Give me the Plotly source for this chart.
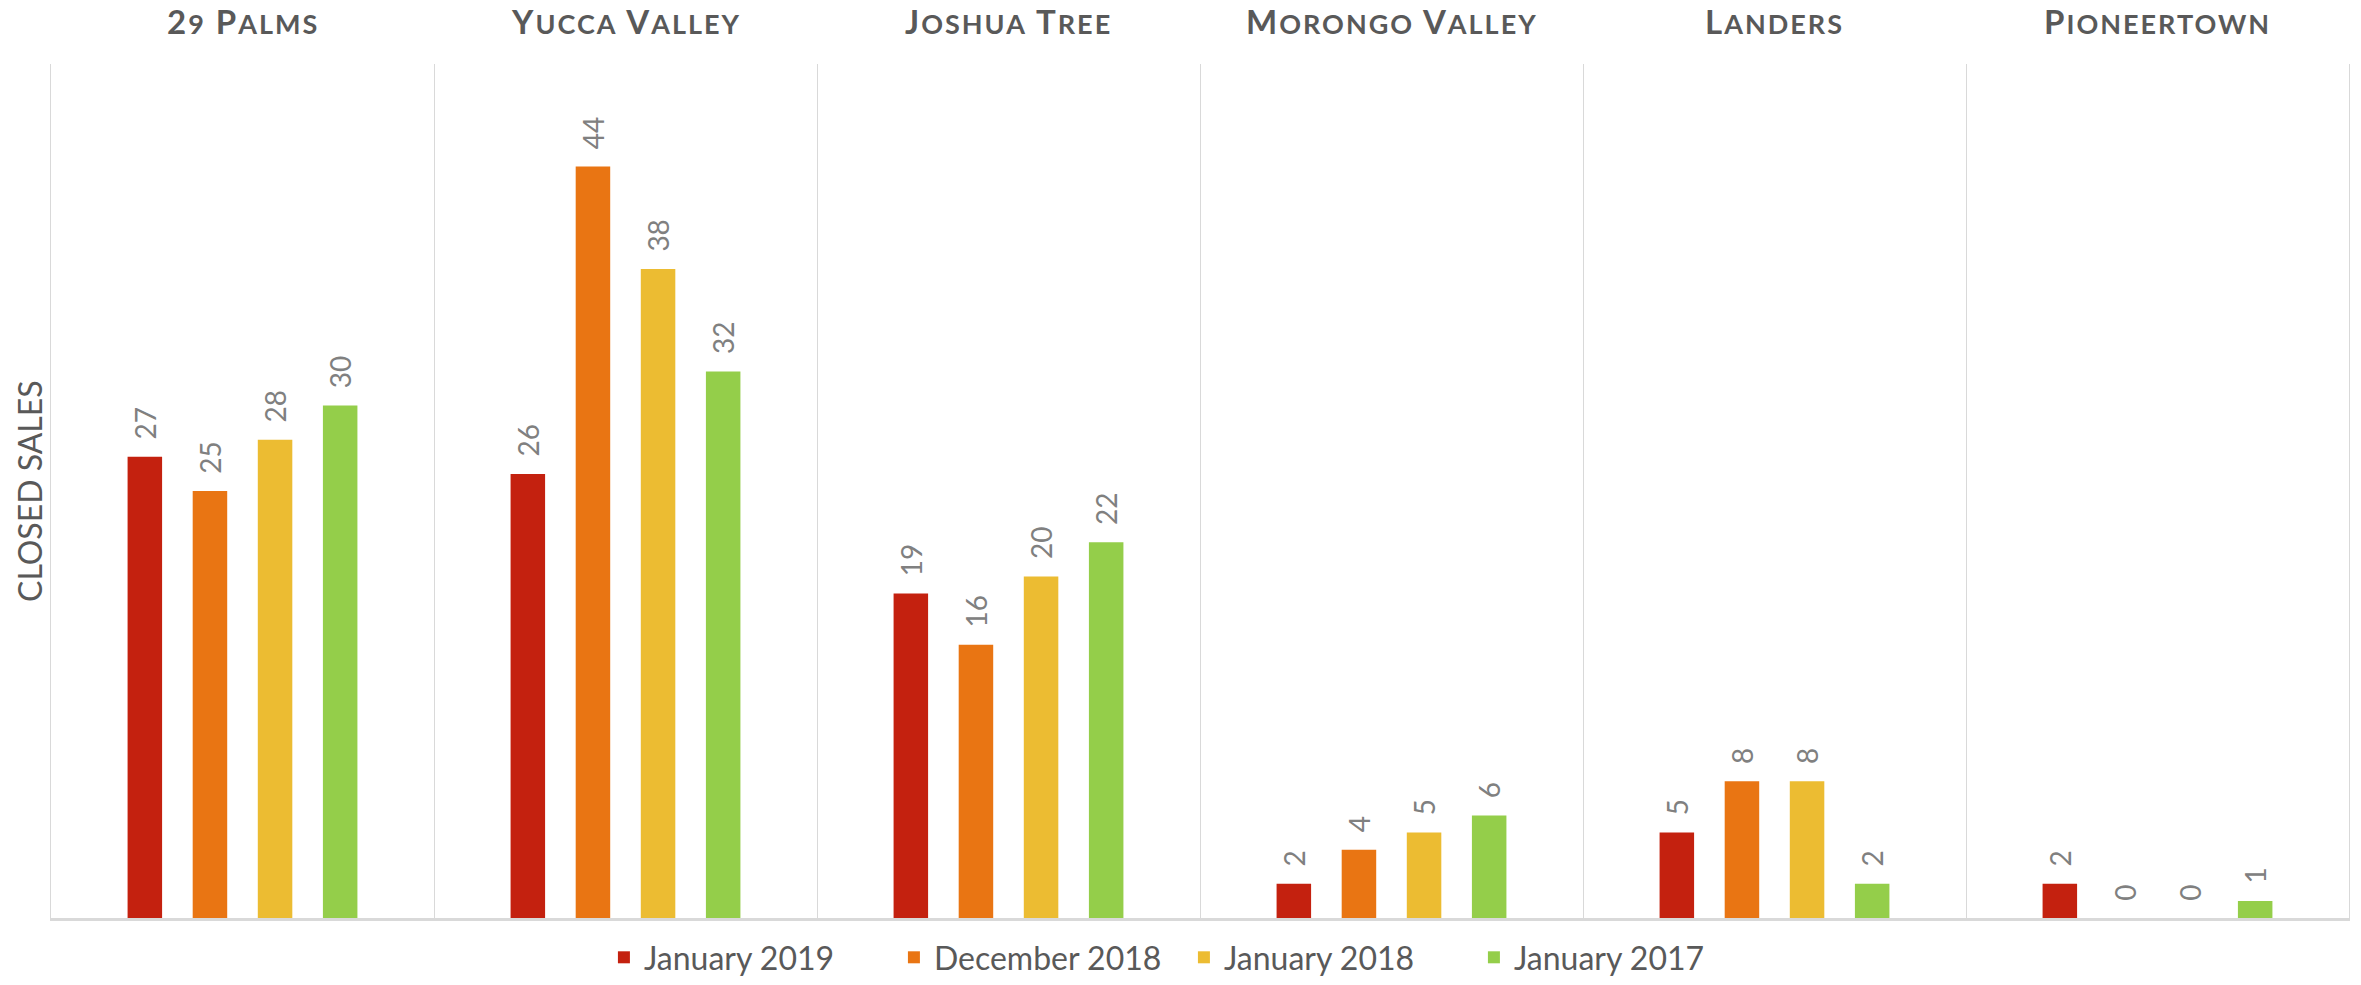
import plotly.graph_objects as go

categories = ["29 Palms", "Yucca Valley", "Joshua Tree", "Morongo Valley", "Landers", "Pioneertown"]
series_names = ["January 2019", "December 2018", "January 2018", "January 2017"]
jan_2019 = [27, 26, 19, 2, 5, 2]
dec_2018 = [25, 44, 16, 4, 8, 0]
jan_2018 = [28, 38, 20, 5, 8, 0]
jan_2017 = [30, 32, 22, 6, 2, 1]
series_values = [jan_2019, dec_2018, jan_2018, jan_2017]
colors = ["#C4210F", "#E97513", "#ECBC32", "#94CE4A"]

FONT = "Lato"
TITLE_SIZE = 33
SMALL_SIZE = 27


def small_caps(label):
    words = []
    for w in label.split(" "):
        head, rest = w[0], w[1:]
        if rest:
            words.append(f"{head.upper()}<span style='font-size:{SMALL_SIZE}px'>{rest.upper()}</span>")
        else:
            words.append(head.upper())
    return "<span style='letter-spacing:2px'>" + " ".join(words) + "</span>"


fig = go.Figure()
for name, vals, col in zip(series_names, series_values, colors):
    fig.add_trace(go.Bar(
        x=categories, y=vals, name=name,
        marker=dict(color=col, line=dict(width=0)),
        text=vals,
        texttemplate="\u00a0\u00a0%{y}",
        textposition="outside",
        textangle=-90,
        constraintext="none",
        cliponaxis=False,
        textfont=dict(family=FONT, size=28, color="#808080"),
        hoverinfo="skip",
    ))

annotations = []
for cat in categories:
    annotations.append(dict(
        x=cat, y=1, xref="x", yref="paper",
        text=small_caps(cat),
        showarrow=False, xanchor="center", yanchor="middle", yshift=43,
        font=dict(family=FONT, size=TITLE_SIZE, color="#595959", weight=700),
    ))
annotations.append(dict(
    x=0, y=0.5, xref="paper", yref="paper", text="CLOSED SALES",
    showarrow=False, textangle=-90, xanchor="center", yanchor="middle", xshift=-22,
    font=dict(family=FONT, size=32, color="#595959"),
))

fig.update_layout(
    width=2361, height=985,
    margin=dict(l=51, r=12, t=64, b=67),
    paper_bgcolor="white", plot_bgcolor="white",
    barmode="group", bargap=0.32, bargroupgap=0.47,
    showlegend=True,
    legend=dict(orientation="h", x=0.493, xanchor="center", y=0.0, yref="container",
                yanchor="bottom", font=dict(family=FONT, size=32, color="#595959"),
                traceorder="normal", entrywidth=245, entrywidthmode="pixels"),
    annotations=annotations,
    xaxis=dict(showticklabels=False, ticks="", showgrid=True, gridcolor="#D9D9D9", gridwidth=1,
               tickson="boundaries", showline=True, linecolor="#D9D9D9", linewidth=3,
               zeroline=False, fixedrange=True),
    yaxis=dict(range=[0, 50], showticklabels=False, ticks="", showgrid=False, zeroline=False,
               showline=True, mirror=True, linecolor="#D9D9D9", linewidth=1, fixedrange=True),
)

fig.write_html("out.html", config={"displayModeBar": False},
               post_script="document.body.style.margin='0';document.body.style.overflow='hidden';")
